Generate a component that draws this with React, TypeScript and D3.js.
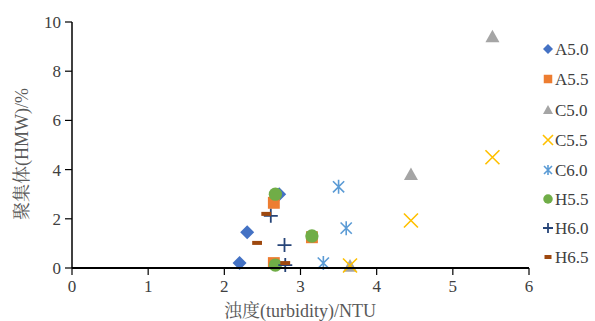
import React from "react";
import * as d3 from "d3";

const seriesNames = ["A5.0", "A5.5", "C5.0", "C5.5", "C6.0", "H5.5", "H6.0", "H6.5"];
const seriesColors = ["#4472C4", "#ED7D31", "#A5A5A5", "#FFC000", "#5B9BD5", "#70AD47", "#264478", "#9E480E"];
const seriesShapes = ["diamond", "square", "triangle", "x", "star", "circle", "plus", "dash"];

const a50 = [[2.2, 0.2], [2.3, 1.45], [2.72, 3.0]];
const a55 = [[2.65, 2.65], [2.65, 0.2], [3.15, 1.25]];
const c50 = [[5.52, 9.4], [4.45, 3.8], [3.65, 0.08]];
const c55 = [[5.52, 4.5], [4.45, 1.93], [3.65, 0.1]];
const c60 = [[3.5, 3.3], [3.6, 1.62], [3.3, 0.2]];
const h55 = [[2.67, 3.0], [2.67, 0.12], [3.15, 1.3]];
const h60 = [[2.61, 2.12], [2.79, 0.93], [2.8, 0.12]];
const h65 = [[2.55, 2.2], [2.43, 1.02], [2.8, 0.2]];
const seriesData = [a50, a55, c50, c55, c60, h55, h60, h65];

const xTicks = [0, 1, 2, 3, 4, 5, 6];
const yTicks = [0, 2, 4, 6, 8, 10];

const W = 595, H = 321;
const x = d3.scaleLinear().domain([0, 6]).range([72, 529]);
const y = d3.scaleLinear().domain([0, 10]).range([268, 22]);

function Marker({ shape, color, cx, cy, s }: { shape: string; color: string; cx: number; cy: number; s: number }) {
  const h = s / 2;
  switch (shape) {
    case "diamond":
      return <path d={`M${cx},${cy - h}L${cx + h},${cy}L${cx},${cy + h}L${cx - h},${cy}Z`} fill={color} />;
    case "square":
      return <rect x={cx - h * 0.85} y={cy - h * 0.85} width={s * 0.85} height={s * 0.85} fill={color} />;
    case "triangle":
      return <path d={`M${cx},${cy - h}L${cx + h},${cy + h * 0.8}L${cx - h},${cy + h * 0.8}Z`} fill={color} />;
    case "circle":
      return <circle cx={cx} cy={cy} r={h * 0.95} fill={color} />;
    case "x":
      return <path d={`M${cx - h},${cy - h}L${cx + h},${cy + h}M${cx - h},${cy + h}L${cx + h},${cy - h}`} stroke={color} strokeWidth={1.6} fill="none" />;
    case "star":
      return (
        <path
          d={`M${cx - h * 0.8},${cy - h * 0.8}L${cx + h * 0.8},${cy + h * 0.8}M${cx - h * 0.8},${cy + h * 0.8}L${cx + h * 0.8},${cy - h * 0.8}M${cx},${cy - h}L${cx},${cy + h}`}
          stroke={color}
          strokeWidth={1.6}
          fill="none"
        />
      );
    case "plus":
      return <path d={`M${cx - h},${cy}L${cx + h},${cy}M${cx},${cy - h}L${cx},${cy + h}`} stroke={color} strokeWidth={1.8} fill="none" />;
    case "dash":
      return <rect x={cx - h * 0.7} y={cy - 2} width={s * 0.7} height={4} fill={color} />;
    default:
      return null;
  }
}

export default function App() {
  const font = "'Liberation Serif', 'Times New Roman', 'Noto Serif CJK SC', 'Noto Sans CJK SC', serif";
  const legendY = [49, 79, 110, 140, 170, 199, 228, 257];
  return (
    <svg width={W} height={H} style={{ position: "absolute", left: 0, top: 0, background: "#fff" }} fontFamily={font}>
      {/* axes */}
      <line x1={x(0)} x2={x(0)} y1={y(10)} y2={y(0)} stroke="#000" strokeWidth={1.5} />
      {yTicks.map((t) => (
        <g key={"y" + t}>
          <line x1={x(0) - 7} x2={x(0)} y1={y(t)} y2={y(t)} stroke="#000" strokeWidth={1.2} />
          <text x={x(0) - 11} y={y(t)} dy="0.35em" textAnchor="end" fontSize={17} fill="#404040">{t}</text>
        </g>
      ))}
      {xTicks.map((t) => (
        <g key={"x" + t}>
          <line x1={x(t)} x2={x(t)} y1={y(0)} y2={y(0) + 7} stroke="#000" strokeWidth={1.2} />
          <text x={x(t)} y={y(0) + 24} textAnchor="middle" fontSize={17} fill="#404040">{t}</text>
        </g>
      ))}
      {/* data */}
      {seriesData.map((data, i) => (
        <g key={seriesNames[i]}>
          {data.map((d, j) => (
            <Marker key={j} shape={seriesShapes[i]} color={seriesColors[i]} cx={x(d[0])} cy={y(d[1])} s={14} />
          ))}
        </g>
      ))}
      <line x1={x(0)} x2={x(6)} y1={y(0)} y2={y(0)} stroke="#000" strokeWidth={2.2} />
      {/* titles */}
      <text x={300} y={317} textAnchor="middle" fontSize={18} fill="#595959">浊度(turbidity)/NTU</text>
      <text transform={`translate(28,154) rotate(-90)`} textAnchor="middle" fontSize={18} fill="#595959">聚集体(HMW)/%</text>
      {/* legend */}
      {seriesNames.map((n, i) => (
        <g key={"lg" + n}>
          <Marker shape={seriesShapes[i]} color={seriesColors[i]} cx={548} cy={legendY[i]} s={10} />
          <text x={555} y={legendY[i]} dy="0.35em" fontSize={17} fill="#404040">{n}</text>
        </g>
      ))}
    </svg>
  );
}
